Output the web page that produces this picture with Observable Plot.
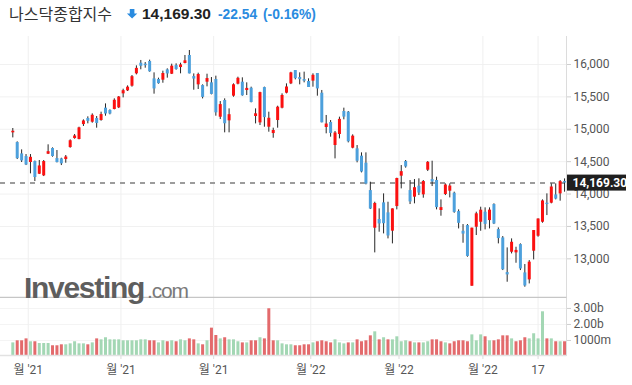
<!DOCTYPE html>
<html><head><meta charset="utf-8">
<script src="https://cdn.jsdelivr.net/npm/d3@7"></script>
<script src="https://cdn.jsdelivr.net/npm/@observablehq/plot@0.6"></script>
<style>
html,body{margin:0;padding:0;background:#fff;}
#root{position:relative;width:632px;height:385px;overflow:hidden;font-family:"Liberation Sans",Arial,sans-serif;}
#title{position:absolute;left:0;top:0;}
#price{position:absolute;left:0;top:36px;}
#volume{position:absolute;left:0;top:298px;}
#logo{position:absolute;left:0;top:0;pointer-events:none;}
</style></head><body>
<div id="root">
  <svg id="title" width="632" height="34"></svg>
  <div id="price"></div>
  <div id="volume"></div>
  <svg id="logo" width="632" height="385">
    <text x="24" y="298" font-family="Liberation Sans, Arial, sans-serif" font-weight="bold" font-size="30" letter-spacing="-1.3" fill="#5e5e5e">Investing</text>
    <text x="147" y="298" font-family="Liberation Sans, Arial, sans-serif" font-size="21" letter-spacing="-1.2" fill="#7a7a7a">.com</text>
  </svg>
</div>
<script>
const titleName = "나스닥종합지수";

const dates = [
"2021-09-27","2021-09-28","2021-09-29","2021-09-30",
"2021-10-01","2021-10-04","2021-10-05","2021-10-06","2021-10-07","2021-10-08","2021-10-11","2021-10-12","2021-10-13","2021-10-14","2021-10-15","2021-10-18","2021-10-19","2021-10-20","2021-10-21","2021-10-22","2021-10-25","2021-10-26","2021-10-27","2021-10-28","2021-10-29",
"2021-11-01","2021-11-02","2021-11-03","2021-11-04","2021-11-05","2021-11-08","2021-11-09","2021-11-10","2021-11-11","2021-11-12","2021-11-15","2021-11-16","2021-11-17","2021-11-18","2021-11-19","2021-11-22","2021-11-23","2021-11-24","2021-11-26","2021-11-29","2021-11-30",
"2021-12-01","2021-12-02","2021-12-03","2021-12-06","2021-12-07","2021-12-08","2021-12-09","2021-12-10","2021-12-13","2021-12-14","2021-12-15","2021-12-16","2021-12-17","2021-12-20","2021-12-21","2021-12-22","2021-12-23","2021-12-27","2021-12-28","2021-12-29","2021-12-30","2021-12-31",
"2022-01-03","2022-01-04","2022-01-05","2022-01-06","2022-01-07","2022-01-10","2022-01-11","2022-01-12","2022-01-13","2022-01-14","2022-01-18","2022-01-19","2022-01-20","2022-01-21","2022-01-24","2022-01-25","2022-01-26","2022-01-27","2022-01-28","2022-01-31",
"2022-02-01","2022-02-02","2022-02-03","2022-02-04","2022-02-07","2022-02-08","2022-02-09","2022-02-10","2022-02-11","2022-02-14","2022-02-15","2022-02-16","2022-02-17","2022-02-18","2022-02-22","2022-02-23","2022-02-24","2022-02-25","2022-02-28",
"2022-03-01","2022-03-02","2022-03-03","2022-03-04","2022-03-07","2022-03-08","2022-03-09","2022-03-10","2022-03-11","2022-03-14","2022-03-15","2022-03-16","2022-03-17","2022-03-18","2022-03-21","2022-03-22","2022-03-23","2022-03-24","2022-03-25"];

const open = [
14945,14795,14620,14579,14487,14502,14306,14281,14615,14703,
14548,14543,14533,14718,14857,14842,15073,15166,15109,15166,
15135,15326,15290,15305,15331,15547,15593,15665,15856,16020,
16005,16046,15778,15768,15758,15917,15850,15984,15953,16015,
16139,15814,15686,15675,15727,15717,15768,15186,15444,15130,
15511,15696,15727,15598,15634,15197,15099,15644,15032,14934,
15135,15325,15557,15701,15907,15799,15768,15738,15743,15861,
15557,15027,15105,14749,14919,15274,15264,14708,14698,14585,
14477,14054,13473,13607,13864,13710,13427,13807,14276,14502,
14054,13952,14121,13988,14368,14224,14209,13746,13993,14044,
14013,13730,13426,13514,12577,13488,13565,13720,13591,13838,
13452,13323,12788,13102,13092,13220,12783,12675,13118,13349,
13565,13859,13859,13987,14003,14193];

const high = [
15012,14806,14682,14610,14610,14510,14518,14518,14760,14713,
14672,14553,14595,14837,14919,15032,15145,15192,15238,15197,
15264,15392,15300,15470,15506,15619,15670,15830,15979,16062,
16030,16067,15871,15789,15897,15933,16005,16010,16020,16139,
16216,15855,15866,15686,15850,15799,15820,15428,15470,15315,
15701,15804,15794,15717,15650,15315,15572,15650,15264,15017,
15356,15547,15701,15880,15907,15871,15882,15779,15856,15861,
15599,15213,15135,14966,15187,15326,15274,14914,14749,14636,
14636,14183,13874,13771,14003,13874,13771,14245,14440,14518,
14209,14224,14235,14209,14502,14507,14260,13910,14157,14157,
14029,13756,13529,13529,13473,13720,13797,13787,13787,13849,
13478,13344,13169,13308,13179,13231,12912,12973,13437,13617,
13910,14003,14157,14157,14209,14234];

const low = [
14867,14533,14487,14440,14312,14193,14301,14270,14610,14569,
14481,14440,14476,14708,14847,14837,15043,15084,15094,15017,
15125,15202,15223,15300,15320,15485,15583,15650,15840,15918,
15943,15881,15542,15696,15711,15789,15845,15912,15856,16010,
15855,15603,15614,15469,15655,15531,15202,15150,14945,14945,
15495,15686,15511,15521,15408,15083,15058,15032,14955,14862,
15017,15315,15547,15690,15763,15686,15717,15645,15650,15511,
15099,14930,14878,14543,14852,15146,14790,14698,14482,14327,
14142,13761,13092,13411,13385,13308,13231,13756,14080,14400,
13838,13849,13977,13936,14348,14116,13756,13658,13977,13941,
13704,13462,13241,13025,12577,13360,13426,13447,13462,13529,
13231,12819,12639,13076,12932,12819,12562,12613,12984,13334,
13550,13668,13849,13910,13890,14029];

const close = [
14970,14547,14512,14449,14567,14255,14434,14502,14654,14580,
14486,14466,14572,14823,14897,15022,15129,15122,15216,15090,
15227,15236,15236,15448,15498,15596,15650,15812,15940,15972,
15982,15887,15623,15704,15861,15854,15974,15922,15994,16057,
15855,15775,15845,15492,15783,15538,15254,15381,15085,15225,
15687,15787,15517,15631,15413,15238,15566,15180,15170,14981,
15341,15522,15653,15871,15782,15766,15742,15645,15833,15623,
15100,15081,14936,14943,15153,15188,14807,14894,14507,14340,
14154,13769,13855,13539,13542,13353,13771,14240,14346,14418,
13879,14098,14016,14194,14490,14186,13791,13791,14140,14124,
13717,13548,13382,13037,13474,13695,13751,13532,13752,13538,
13313,12831,12752,13256,13130,12844,12581,12949,13437,13615,
13894,13838,14109,13923,14191.84,14169.30];

// volume in billions
const volume = [
0.85,0.98,0.98,1.10,0.92,0.92,0.81,0.81,0.81,0.67,
0.67,0.73,0.73,0.79,0.92,0.79,0.79,0.73,0.85,1.10,
1.04,1.17,1.04,1.04,1.04,0.98,0.98,0.98,0.98,1.04,
1.04,0.98,0.98,0.85,0.98,0.92,0.98,0.92,1.04,0.98,
1.10,1.04,0.79,0.73,0.98,1.77,1.31,1.10,1.17,1.04,
1.04,0.92,0.85,0.85,0.98,0.98,1.17,1.10,2.98,0.98,
0.98,0.79,0.73,
0.73,0.67,0.67,0.73,0.73,0.85,0.92,0.98,0.92,0.85,
1.04,0.85,0.79,0.85,0.85,1.04,0.92,0.98,1.29,1.54,
1.04,1.17,1.04,1.04,1.23,0.92,0.98,0.92,0.85,0.85,
0.85,0.92,1.04,1.04,0.92,0.85,0.79,0.92,0.98,0.98,
0.92,1.35,0.98,1.35,1.23,0.98,0.98,1.04,1.29,1.29,
1.10,0.92,0.98,1.17,1.10,1.42,1.10,2.79,1.10,1.10,
0.92,0.92,0.92];

const volumeUp = [
1,0,0,0,1,0,1,1,1,0, 0,0,1,1,1,1,1,0,1,0, 1,1,1,1,1,1,1,1,1,1,
1,0,0,1,1,0,1,0,1,1, 0,0,1,0,1,0,0,1,0,1, 1,1,0,1,0,0,1,0,0,0, 1,1,1,
1,0,0,0,0,1,0,0,0,0, 1,1,1,0,1,0,0,0,0,1, 0,1,0,1,1,1,1,0,1,0,
1,1,0,0,0,1,0,0,0,0, 0,1,1,1,0,1,0,0,0,0, 1,0,0,0,1,1,1,1,0,1, 0,1,0];

const priceTicks = [13000, 13500, 14000, 14500, 15000, 15500, 16000];
const volumeTicks = [1, 2, 3];
const volumeTickLabels = ["1000m", "2.00b", "3.00b"];
const xTickKeys = ["2021-10", "2021-11", "2021-12", "2022-01", "2022-02", "2022-03", "2022-03-17"];
const xTickLabels = ["월 '21", "월 '21", "월 '21", "월 '22", "월 '22", "월 '22", "17"];

// ---- build table ----
const data = dates.map((d, i) => ({
  i, date: d, open: open[i], high: high[i], low: low[i], close: close[i],
  volume: volume[i], volUp: volumeUp[i] === 1, up: close[i] >= open[i]
}));
const xTicks = xTickKeys.map(k => {
  const idx = dates.findIndex(d => d.startsWith(k));
  return k.length === 7 ? idx - 0.5 : idx;
});
const n = dates.length;
const lastClose = close[n - 1];
const prevClose = close[n - 2];
const change = lastClose - prevClose;
const pct = change / prevClose * 100;
const fmtPrice = d3.format(",.2f");
const sign = v => (v < 0 ? "-" : "+");

// ---- title ----
const RED = "#fb1010", BLUE = "#4da0dc", BLUE_TXT = "#2a8bdf";
const t = d3.select("#title");
t.append("text").attr("x", 9).attr("y", 19.5)
  .attr("font-family", "'Noto Sans CJK KR', sans-serif").attr("font-size", 16).attr("fill", "#333")
  .text(titleName);
t.append("path").attr("d", "M129.8 9h4.6v4.6h2.9l-5.2 5l-5.2-5h2.9z").attr("fill", BLUE_TXT);
t.append("text").attr("x", 142).attr("y", 18.5)
  .attr("font-family", "'Liberation Sans', Arial, sans-serif").attr("font-weight", "bold")
  .attr("font-size", 15.5).attr("fill", "#222").text(fmtPrice(lastClose));
t.append("text").attr("x", 218).attr("y", 18.5)
  .attr("font-family", "'Liberation Sans', Arial, sans-serif").attr("font-weight", "bold")
  .attr("font-size", 13.8).attr("fill", BLUE_TXT).text(sign(change) + Math.abs(change).toFixed(2));
t.append("text").attr("x", 263).attr("y", 18.5)
  .attr("font-family", "'Liberation Sans', Arial, sans-serif").attr("font-weight", "bold")
  .attr("font-size", 13.8).attr("fill", BLUE_TXT).text("(" + sign(pct) + Math.abs(pct).toFixed(2) + "%)");

const xDomain = [-2.787, 125.44];
const FONT = "Roboto, 'Noto Sans CJK KR', sans-serif";

function edgeLines(sepColor) {
  return (index, scales, values, dims) => {
    const g = d3.create("svg:g");
    const xr = dims.width - dims.marginRight + 0.5;
    const yb = dims.height - dims.marginBottom;
    g.append("line").attr("x1", xr).attr("x2", xr).attr("y1", 0).attr("y2", yb)
      .attr("stroke", "#dcdcdc");
    g.append("line").attr("x1", 0).attr("x2", xr).attr("y1", yb - 0.5).attr("y2", yb - 0.5)
      .attr("stroke", sepColor).attr("stroke-width", 1.3);
    return g.node();
  };
}

function lastPriceBox(index, scales, values, dims) {
  const y = scales.y(lastClose);
  const x0 = dims.width - dims.marginRight;
  const g = d3.create("svg:g");
  g.append("rect").attr("x", x0 + 1).attr("y", y - 8).attr("width", 59).attr("height", 16).attr("fill", "#1f1f1f");
  g.append("text").attr("x", x0 + 6.5).attr("y", y).attr("dy", "0.36em")
    .attr("text-anchor", "start")
    .attr("fill", "#fff").attr("font-size", 12).attr("font-weight", "bold")
    .attr("font-family", FONT).text(fmtPrice(lastClose));
  return g.node();
}

const price = Plot.plot({
  width: 632, height: 262,
  marginLeft: 0, marginRight: 66, marginTop: 0, marginBottom: 0,
  style: {fontFamily: FONT, fontSize: "12px", color: "#555", background: "transparent"},
  x: {type: "linear", domain: xDomain, axis: null},
  y: {domain: [12387.8, 16432.2], axis: null},
  marks: [
    Plot.ruleY(priceTicks, {stroke: "#f1f1f1"}),
    Plot.ruleX(xTicks, {stroke: "#efefef"}),
    Plot.ruleY([lastClose], {stroke: "#9c9c9c", strokeWidth: 2, strokeDasharray: "5,5"}),
    Plot.ruleX(data, {x: "i", y1: "low", y2: "high", stroke: "#262626", strokeWidth: 1}),
    Plot.ruleX(data, {x: "i", y1: "open", y2: "close", stroke: d => d.up ? RED : BLUE, strokeWidth: 3}),
    edgeLines("#c6c6c6"),
    Plot.axisY({anchor: "right", ticks: priceTicks, tickFormat: d3.format(","), tickSize: 4, tickPadding: 3,
      stroke: "#cfcfcf", fill: "#555", fontSize: 12, label: null}),
    lastPriceBox
  ]
});
document.getElementById("price").appendChild(price);

const vol = Plot.plot({
  width: 632, height: 87,
  marginLeft: 0, marginRight: 66, marginTop: 0, marginBottom: 29,
  style: {fontFamily: FONT, fontSize: "12px", color: "#555", background: "transparent"},
  x: {type: "linear", domain: xDomain},
  y: {domain: [0, 3.62]},
  marks: [
    Plot.ruleY(volumeTicks, {stroke: "#f4f4f4"}),
    Plot.ruleX(xTicks, {stroke: "#efefef"}),
    Plot.ruleX(data, {x: "i", y1: 0, y2: "volume", stroke: d => d.volUp ? "#a3d7b4" : "#e36a6c", strokeWidth: 3}),
    edgeLines("#e2e2e2"),
    Plot.axisY({anchor: "right", ticks: volumeTicks, tickFormat: (d, k) => volumeTickLabels[k], tickSize: 4, tickPadding: 3,
      stroke: "#cfcfcf", fill: "#555", fontSize: 12, label: null}),
    Plot.axisX({anchor: "bottom", ticks: xTicks, tickFormat: (d, k) => xTickLabels[k], tickSize: 3, tickPadding: 6,
      stroke: "#dcdcdc", fill: "#555", fontSize: 12, label: null})
  ]
});
document.getElementById("volume").appendChild(vol);
</script>
</body></html>
